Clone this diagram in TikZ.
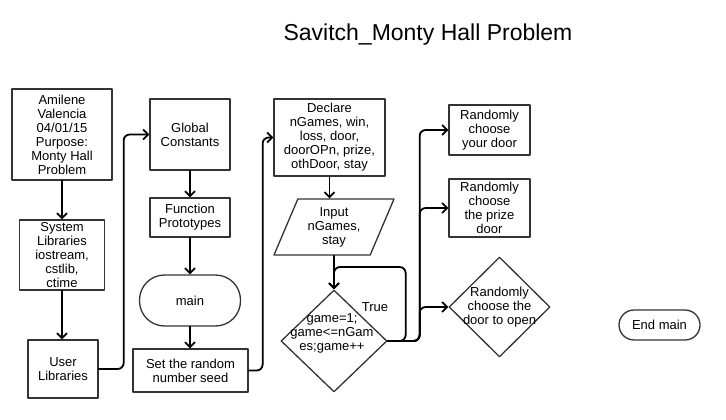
\documentclass[tikz,border=0pt]{standalone}
\usepackage{fontspec}
\setmainfont{Liberation Sans}
\usepackage{tikz}
\usetikzlibrary{shapes.geometric, arrows.meta}
\tikzstyle{block}=[rectangle,draw=black!80,line width=1.3pt,align=center,inner xsep=2pt,inner ysep=0pt,font=\fontsize{13}{14}\selectfont]
\tikzstyle{term}=[block,rounded corners=15pt]
\tikzstyle{io}=[trapezium,trapezium left angle=59,trapezium right angle=121,trapezium stretches body,draw=black!80,line width=1.3pt,align=center,inner sep=0pt,font=\fontsize{13}{14}\selectfont]
\tikzstyle{decision}=[diamond,draw=black!80,line width=1.3pt,inner sep=0pt]
\tikzstyle{label}=[align=center,inner sep=0pt,font=\fontsize{13}{14}\selectfont]
\tikzstyle{line}=[line width=1.8pt,rounded corners=6pt]

\begin{document}
\begin{tikzpicture}[line cap=round,line join=round,>={Straight Barb[length=5pt,width=10pt]},x=1pt,y=-1pt]
\useasboundingbox (0,0) rectangle (726,420);
\node (title) at (428,35) {\fontsize{23}{26}\selectfont Savitch\_Monty Hall Problem};
\node [block,minimum width=100pt,minimum height=91pt] (author) at (62,134.5) {Amilene\\Valencia\\04/01/15\\Purpose:\\Monty Hall\\Problem};
\node [block,minimum width=85pt,minimum height=70pt] (syslib) at (62,255) {System\\Libraries\\iostream,\\cstlib,\\ctime};
\node [block,minimum width=70pt,minimum height=58pt] (userlib) at (63,369) {User\\Libraries};
\node [block,minimum width=80pt,minimum height=71pt] (glob) at (190,134.5) {Global\\Constants};
\node [block,minimum width=80pt,minimum height=39pt] (proto) at (190,217.5) {Function\\Prototypes};
\node [term,minimum width=101pt,minimum height=51pt,rounded corners=25pt] (main) at (190,300.5) {main};
\node [block,minimum width=115pt,minimum height=43pt] (seed) at (190.5,370.5) {Set the random\\number seed};
\node [block,minimum width=111pt,minimum height=77pt] (decl) at (329.5,137.5) {Declare\\nGames, win,\\loss, door,\\doorOPn, prize,\\othDoor, stay};
\node [io,minimum width=120pt,minimum height=56pt] (input) at (334,227) {Input\\nGames,\\stay};
\node [decision,minimum width=106pt,minimum height=102pt] (loop) at (334,341) {};
\node [label] (looptxt) at (332,333) {game=1;\\game<=nGam\\es;game++};
\node [label] (truelbl) at (375,307) {True};
\node [block,minimum width=81pt,minimum height=50pt] (door) at (489.5,130) {Randomly\\choose\\your door};
\node [block,minimum width=81pt,minimum height=58pt] (prize) at (489.5,208) {Randomly\\choose\\the prize\\door};
\node [decision,minimum width=101pt,minimum height=100pt] (opn) at (499.5,307) {};
\node [label] (opntxt) at (opn.center) {Randomly\\choose the\\door to open};
\node [term,minimum width=81pt,minimum height=30pt] (endm) at (659.5,325) {End main};
\draw [line,->] (author) -- (syslib);
\draw [line,->] (syslib) -- (syslib |- userlib.north);
\draw [line,->] (userlib.east) -- ++(25,0) |- (glob.west);
\draw [line,->] (glob) -- (proto);
\draw [line,->] (proto) -- (main);
\draw [line,->] (main) -- (main |- seed.north);
\draw [line,->] (seed.east) -- ++(14,0) |- (decl.west);
\draw [line,->] (decl.south) -- (decl.south |- input.north);
\draw [line,->] (input.south) -- (loop.north);
\draw [line,->] (loop.east) -- ++(18,0) -- ++(0,-74) -| (loop.north);
\draw [line,->] (loop.east) -- ++(32,0) |- (door.west);
\draw [line,->] (loop.east) -- ++(32,0) |- (prize.west);
\draw [line,->] (loop.east) -- ++(32,0) |- (opn.west);
\end{tikzpicture}
\end{document}
